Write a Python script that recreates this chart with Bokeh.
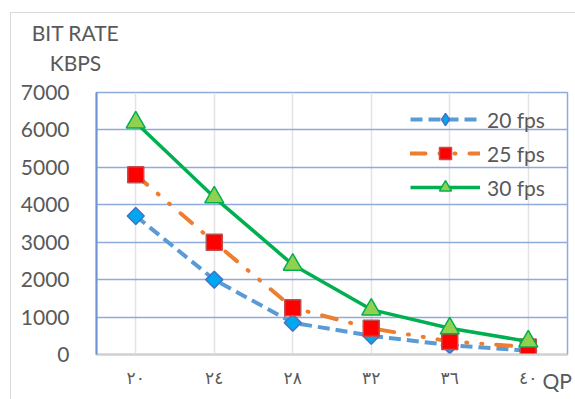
import math
from bokeh.plotting import figure
from bokeh.models import FactorRange, Label, Legend, LegendItem, FixedTicker
from bokeh.embed import file_html
from bokeh.resources import INLINE

qp_labels = ["٢٠", "٢٤", "٢٨", "٣٢", "٣٦", "٤٠"]
fps20 = [3700, 2000, 850, 500, 250, 100]
fps25 = [4800, 3000, 1250, 700, 350, 200]
fps30 = [6200, 4200, 2400, 1200, 700, 350]
y_ticks = [0, 1000, 2000, 3000, 4000, 5000, 6000, 7000]

FONT = "Lato"
GREY = "#595959"
EDGE = "#D9D9D9"

p = figure(width=575, height=399, output_backend="svg", toolbar_location=None,
           x_range=FactorRange(factors=qp_labels, range_padding=0),
           y_range=(0, 7000),
           styles={"background": (f"linear-gradient({EDGE},{EDGE}) 10px 12px / 565px 1px no-repeat, "
                                  f"linear-gradient({EDGE},{EDGE}) 10px 12px / 1px 387px no-repeat, "
                                  "white")},
           min_border_left=96, min_border_right=8, min_border_top=92, min_border_bottom=45)
p.background_fill_color = "white"
p.border_fill_alpha = 0
p.outline_line_color = "#8FAADC"
p.outline_line_width = 1.5

p.xgrid.grid_line_color = "#E3E3E3"
p.xgrid.grid_line_width = 1.5
p.ygrid.grid_line_color = "#8FAADC"
p.ygrid.grid_line_width = 1.5

p.yaxis.ticker = FixedTicker(ticks=y_ticks)
p.yaxis.axis_line_color = "#6F93D3"
p.yaxis.axis_line_width = 2
p.yaxis.major_tick_line_color = None
p.yaxis.minor_tick_line_color = None
p.yaxis.major_label_text_font = FONT
p.yaxis.major_label_text_font_size = "21px"
p.yaxis.major_label_text_color = GREY
p.yaxis.major_label_standoff = 21

p.xaxis.axis_line_color = "#D0D0D0"
p.xaxis.axis_line_width = 2
p.xaxis.major_tick_line_color = None
p.xaxis.minor_tick_line_color = None
p.xaxis.major_label_text_font = "DejaVu Sans"
p.xaxis.major_label_text_font_size = "17px"
p.xaxis.major_label_text_color = GREY
p.xaxis.major_label_standoff = 7

l20 = p.line(qp_labels, fps20, line_color="#5B9BD5", line_width=4, line_dash="12 6")
m20 = p.scatter(qp_labels, fps20, marker="square", angle=math.pi / 4, size=12,
                fill_color="#00A8F0", line_color="#4472C4", line_width=1.5)
lg20 = p.scatter(qp_labels, fps20, marker="diamond", size=15,
                 fill_color="#00A8F0", line_color="#4472C4", line_width=1.5, visible=False)
l25 = p.line(qp_labels, fps25, line_color="#ED7D31", line_width=4, line_dash="15 14 1 14 1 14",
             line_cap="round")
m25 = p.scatter(qp_labels, fps25, marker="square", size=16,
                fill_color="#FF0000", line_color="#C0504D", line_width=1.5)
l30 = p.line(qp_labels, fps30, line_color="#00B050", line_width=3.5)
m30 = p.scatter(qp_labels, fps30, marker="triangle", size=19,
                fill_color="#92D050", line_color="#00B050", line_width=1.5)

legend = Legend(items=[
    LegendItem(label="20 fps", renderers=[l20, lg20]),
    LegendItem(label="25 fps", renderers=[l25, m25]),
    LegendItem(label="30 fps", renderers=[l30, m30]),
], location=(314, 152), orientation="vertical")
legend.background_fill_alpha = 0
legend.border_line_color = None
legend.padding = 0
legend.margin = 0
legend.spacing = 4
legend.glyph_width = 70
legend.glyph_height = 30
legend.label_standoff = 7
legend.label_text_font = FONT
legend.label_text_font_size = "21px"
legend.label_text_color = GREY
p.add_layout(legend, "center")

# Side-panel labels (not clipped to the frame); offsets relative to each panel
qp = Label(x=446, y=-288, x_units="screen", y_units="screen", text="QP",
           text_baseline="alphabetic",
           text_font=FONT, text_font_size="21px", text_color=GREY)
p.add_layout(qp, "above")
ytitle = Label(x=-21, y=48, x_units="screen", y_units="screen", text="BIT RATE\nKBPS",
               text_align="center", text_baseline="top", text_line_height=1.22,
               text_font=FONT, text_font_size="21px", text_color=GREY)
p.add_layout(ytitle, "above")

open("out.html", "w").write(file_html(p, INLINE))
